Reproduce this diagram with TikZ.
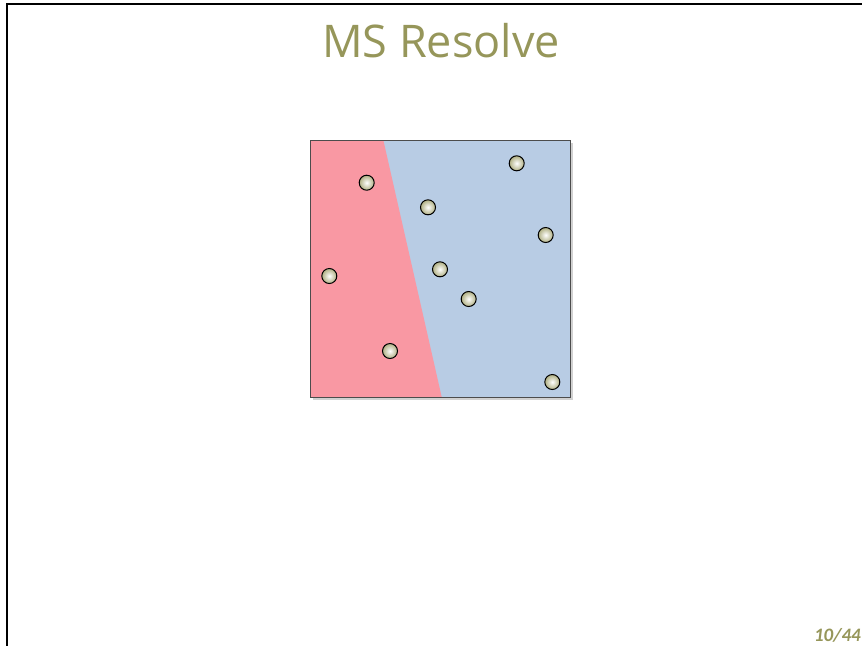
\documentclass[tikz,border=0pt]{standalone}
\usepackage{fontspec}
\setmainfont{Open Sans}
\newfontfamily\pagefont{Carlito}
\usetikzlibrary{shadows}
\definecolor{titleolive}{RGB}{150,150,90}
\definecolor{pastelred}{RGB}{249,152,163}
\definecolor{pastelblue}{RGB}{184,204,228}
\definecolor{balledge}{RGB}{175,175,130}
\tikzset{
  frameline/.style={line width=2pt, black},
  dot/.style={
    circle, draw=black, line width=1pt, inner sep=0pt,
    minimum size=15pt,
    shading=radial, inner color=white, outer color=balledge
  },
  titletext/.style={
    text=titleolive,
    font=\fontsize{45}{50}\selectfont
  }
}
\begin{document}
\begin{tikzpicture}[x=1pt, y=-1pt]
\useasboundingbox (0,0) rectangle (862,646);

% frame of the slide
\draw[frameline] (862,4) -- (7,4) -- (7,646);

% title
\node[titletext] (title) at (441,41) {MS Resolve};

% square with its two regions
\fill[gray!60, opacity=0.6] (313,143) rectangle (573,400);
\fill[pastelblue] (310,140) rectangle (570,397);
\fill[pastelred] (310,140) -- (383.3,140) -- (441.7,397) -- (310,397) -- cycle;
\draw[black!70, semithick] (310,140) rectangle (570,397);

% points
\foreach \i/\px/\py in {1/366.7/182.7, 2/428/207.3, 3/516.7/163.3,
  4/545.7/235, 5/329.3/276, 6/440/269.3, 7/468.7/299,
  8/390/351, 9/552.3/382}
  \node[dot] (p\i) at (\px,\py) {};

% page number
\node[text=titleolive, font=\pagefont\fontsize{19}{19}\selectfont\bfseries\itshape, anchor=east, inner sep=1pt] (pagenum) at (862,635) {10/44};

\end{tikzpicture}
\end{document}
